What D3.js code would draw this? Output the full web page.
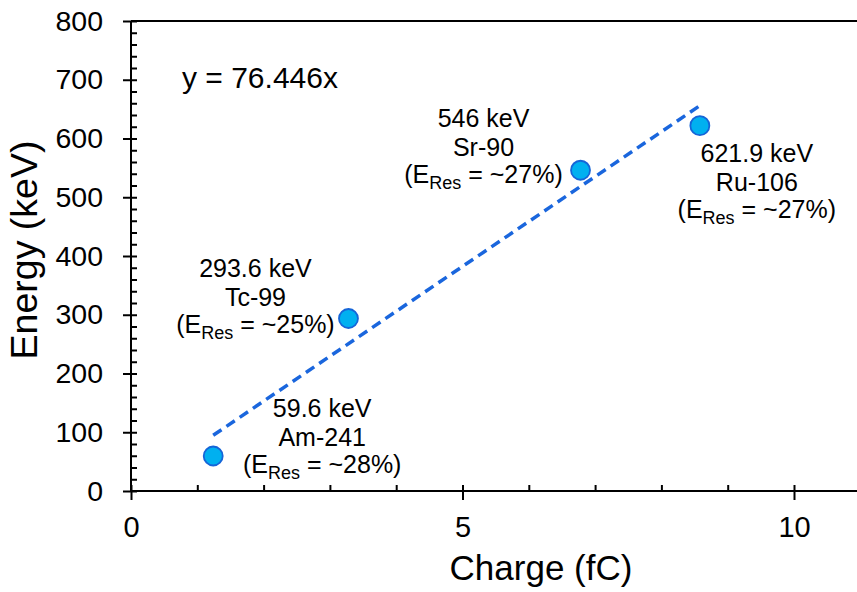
<!DOCTYPE html>
<html>
<head>
<meta charset="utf-8">
<script src="https://cdn.jsdelivr.net/npm/d3@7"></script>
<style>
  body { margin: 0; background: #fff; }
  svg { display: block; font-family: "Liberation Sans", Arial, Helvetica, sans-serif; }
  .tick line { stroke: #000; stroke-width: 2; }
</style>
</head>
<body>
<svg id="chart" width="857" height="592"></svg>
<script>
// source data
var isotopes = ["Am-241", "Tc-99", "Sr-90", "Ru-106"];
var charge = [1.24, 3.28, 6.78, 8.58];           // fC
var energy = [59.6, 293.6, 546, 621.9];          // keV
var energyLabels = ["59.6 keV", "293.6 keV", "546 keV", "621.9 keV"];
var resolution = ["~28%", "~25%", "~27%", "~27%"];
var slope = 76.446;                               // fit y = 76.446x
var xTicks = [0, 5, 10];
var yTicks = [0, 100, 200, 300, 400, 500, 600, 700, 800];

// label placement relative to each point (px)
var labelOffset = [[109, -39], [-93, -42], [-97, -43], [57, 36]];

var svg = d3.select("#chart");
var W = 857, H = 592;
var mLeft = 131, mTop = 21, mBottom = 491;

var x = d3.scaleLinear().domain([0, 11]).range([mLeft, mLeft + 11 * 66.3]);
var y = d3.scaleLinear().domain([0, 800]).range([mBottom, mTop]);

// frame
svg.append("line").attr("x1", mLeft).attr("x2", W).attr("y1", mTop).attr("y2", mTop)
	.attr("stroke", "#000").attr("stroke-width", 2);
svg.append("line").attr("x1", mLeft).attr("x2", W).attr("y1", mBottom).attr("y2", mBottom)
	.attr("stroke", "#000").attr("stroke-width", 2);
svg.append("line").attr("x1", mLeft).attr("x2", mLeft).attr("y1", mTop).attr("y2", mBottom)
	.attr("stroke", "#000").attr("stroke-width", 2);

// y axis: major ticks outward with labels, minor ticks inward
var yMajor = svg.append("g").attr("transform", "translate(" + mLeft + ",0)")
	.call(d3.axisLeft(y).tickValues(yTicks).tickSize(8).tickSizeOuter(0).tickPadding(20));
yMajor.attr("font-size", null).attr("font-family", null);
yMajor.select(".domain").remove();
yMajor.selectAll("text").attr("font-size", 28.5).attr("fill", "#000");
var yMinor = svg.append("g").attr("transform", "translate(" + mLeft + ",0)")
	.call(d3.axisRight(y).tickValues(d3.range(0, 801, 20)).tickSize(6).tickSizeOuter(0).tickFormat(""));
yMinor.select(".domain").remove();

// x axis
var xMajor = svg.append("g").attr("transform", "translate(0," + mBottom + ")")
	.call(d3.axisBottom(x).tickValues(xTicks).tickSize(9).tickSizeOuter(0).tickPadding(16));
xMajor.attr("font-size", null).attr("font-family", null);
xMajor.select(".domain").remove();
xMajor.selectAll("text").attr("font-size", 29).attr("fill", "#000");
var xMinor = svg.append("g").attr("transform", "translate(0," + mBottom + ")")
	.call(d3.axisTop(x).tickValues(d3.range(0, 11, 1)).tickSize(6).tickSizeOuter(0).tickFormat(""));
xMinor.select(".domain").remove();

// axis titles
svg.append("text").attr("x", 541).attr("y", 580).attr("text-anchor", "middle")
	.attr("font-size", 35).text("Charge (fC)");
svg.append("text").attr("transform", "translate(37,250) rotate(-90)").attr("text-anchor", "middle")
	.attr("font-size", 37.5).text("Energy (keV)");

// trend line
var xr = d3.extent(charge);
svg.append("path")
	.datum(xr)
	.attr("d", d3.line().x(function(d){ return x(d); }).y(function(d){ return y(slope * d); }))
	.attr("fill", "none").attr("stroke", "#1a66dd").attr("stroke-width", 3.5)
	.attr("stroke-dasharray", "10,6");

svg.append("text").attr("x", 182).attr("y", 88).attr("font-size", 30).text("y = 76.446x");

// points
svg.selectAll("circle.pt").data(isotopes).enter().append("circle")
	.attr("class", "pt")
	.attr("cx", function(d, i){ return x(charge[i]); })
	.attr("cy", function(d, i){ return y(energy[i]); })
	.attr("r", 9.5)
	.attr("fill", "#00b0f0").attr("stroke", "#1565d8").attr("stroke-width", 1.8);

// point labels
isotopes.forEach(function(name, i){
	var cx = x(charge[i]) + labelOffset[i][0];
	var by = y(energy[i]) + labelOffset[i][1];
	var g = svg.append("g").attr("font-size", 25).attr("text-anchor", "middle");
	g.append("text").attr("x", cx).attr("y", by).text(energyLabels[i]);
	g.append("text").attr("x", cx).attr("y", by + 29).text(name);
	var t = g.append("text").attr("x", cx).attr("y", by + 56);
	t.append("tspan").text("(E");
	t.append("tspan").attr("font-size", 18).attr("dy", 6).text("Res");
	t.append("tspan").attr("dy", -6).text(" = " + resolution[i] + ")");
});
</script>
</body>
</html>
